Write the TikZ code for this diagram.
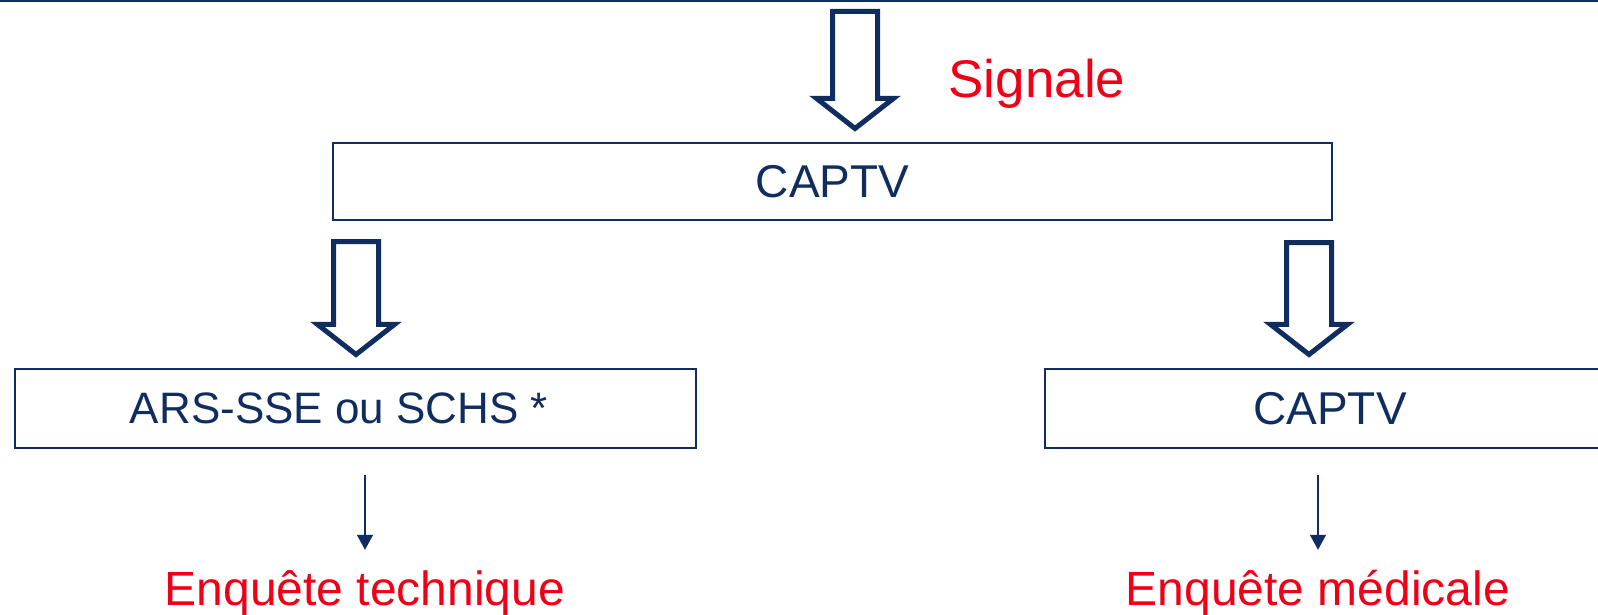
\documentclass[tikz,border=0pt]{standalone}
\usepackage{fontspec}
\setmainfont{Liberation Sans}
\usetikzlibrary{shapes.arrows,arrows.meta}
\definecolor{navy}{RGB}{16,45,96}
\definecolor{signalred}{RGB}{240,0,22}
\newcommand{\BoxFont}{\fontsize{46}{52}\selectfont}
\newcommand{\RedFont}{\fontsize{48}{54}\selectfont}
\newcommand{\SigFont}{\fontsize{53}{58}\selectfont}

\begin{document}
\begin{tikzpicture}[x=1pt,y=-1pt,
  box/.style={draw=navy, line width=1.5pt, inner sep=0pt, text=navy, font=\BoxFont},
  bigarrow/.style={single arrow, draw=navy, line width=5pt, rotate=-90, anchor=tail,
    inner xsep=0pt, inner ysep=20pt, outer sep=0pt,
    single arrow head extend=16pt, single arrow tip angle=104},
  redtext/.style={text=signalred, inner sep=0pt, anchor=base, text height=36pt, text depth=10pt},
  thinarrow/.style={draw=navy, line width=1.5pt, -{Triangle[width=16pt,length=15pt]}}]
\clip (0,0) rectangle (1598,615);

\draw[navy, line width=2pt] (0,1) -- (1598,1);

\node[bigarrow, minimum height=117pt] (arrTop) at (855,11.5) {};
\node[redtext, font=\SigFont] (signale) at (1037,98) {Signale};

\node[box, minimum width=999pt, minimum height=77pt] (captv) at (832.5,181.5) {CAPTV};

\node[bigarrow, minimum height=113pt] (arrLeft) at (356,241.5) {};
\node[bigarrow, minimum height=112pt] (arrRight) at (1309,242.5) {};

\node[box, minimum width=681pt, minimum height=79pt, font=\fontsize{44}{50}\selectfont] (ars) at (355.5,408.5) {ARS-SSE ou SCHS *\kern33pt\relax};
\node[box, minimum width=570pt, minimum height=79pt] (captvRight) at (1330,408.5) {CAPTV};

\node[redtext, font=\RedFont] (technique) at (365,605) {Enquête technique};
\node[redtext, font=\RedFont] (medicale) at (1318,605) {Enquête médicale};

\draw[thinarrow, shorten <=26pt, shorten >=19pt] (ars.south -| technique.north) -- (technique.north);
\draw[thinarrow, shorten <=26pt, shorten >=19pt] (captvRight.south -| medicale.north) -- (medicale.north);
\end{tikzpicture}
\end{document}
